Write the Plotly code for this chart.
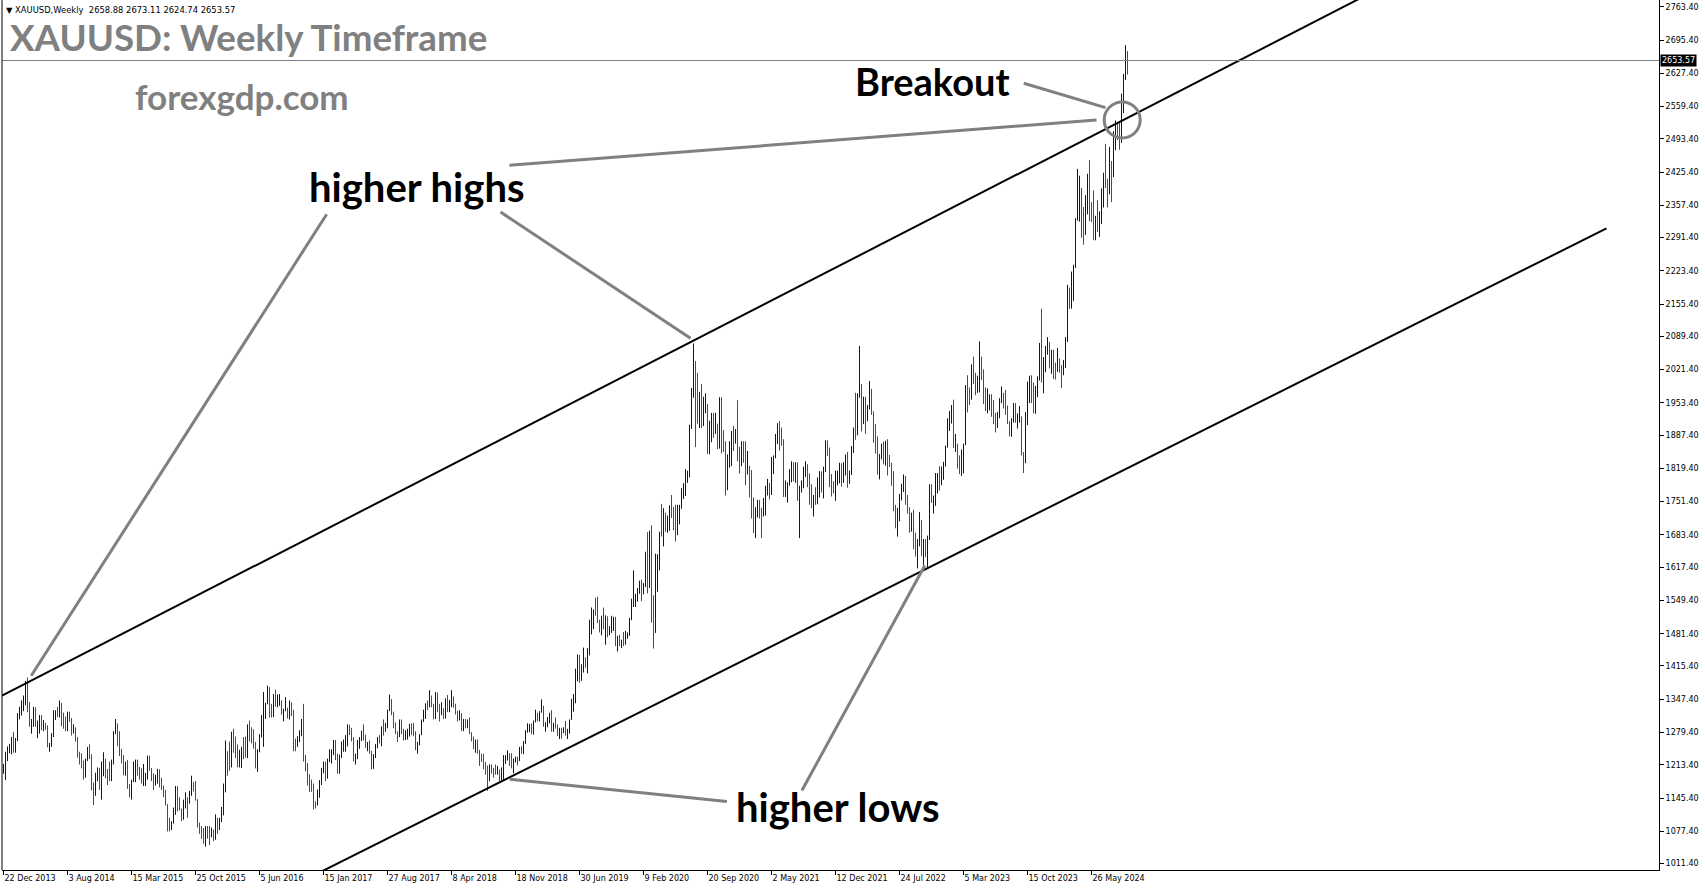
import pandas as pd
import plotly.graph_objects as go

# ---------------- data (weekly XAUUSD bars) ----------------
START = pd.Timestamp("2013-12-22")   # first weekly bar on the chart

opens = [
    1203, 1213,
    1237, 1248, 1254, 1264, 1240, 1262, 1318, 1324, 1326, 1339, 1379, 1336, 1294, 1303, 1318, 1294, 1301, 1302, 1291, 1293,
    1292, 1250, 1252, 1274, 1316, 1320, 1317, 1338, 1310, 1307, 1294, 1310, 1305, 1280, 1287, 1267, 1229, 1215, 1213, 1192,
    1222, 1238, 1232, 1171, 1169, 1190, 1197, 1167, 1191, 1222, 1195, 1194,
    1186, 1216, 1277, 1293, 1279, 1234, 1228, 1206, 1213, 1166, 1152, 1182, 1199, 1219, 1207, 1203, 1178, 1179, 1189, 1225,
    1205, 1189, 1172, 1181, 1201, 1173, 1168, 1157, 1131, 1098, 1094, 1095, 1113, 1160, 1134, 1121, 1104, 1137, 1146, 1137,
    1156, 1176, 1162, 1142, 1088, 1081, 1076, 1057, 1085, 1074, 1066, 1076,
    1061, 1098, 1090, 1097, 1118, 1173, 1239, 1230, 1221, 1271, 1259, 1254, 1217, 1222, 1243, 1234, 1231, 1291, 1289, 1273,
    1253, 1213, 1243, 1275, 1298, 1315, 1339, 1366, 1327, 1322, 1351, 1335, 1336, 1341, 1321, 1326, 1328, 1310, 1338, 1316,
    1257, 1251, 1266, 1276, 1304, 1225, 1207, 1178, 1177, 1160, 1134, 1133,
    1151, 1173, 1197, 1205, 1190, 1220, 1234, 1238, 1257, 1234, 1201, 1229, 1243, 1249, 1254, 1288, 1284, 1268, 1228, 1229,
    1254, 1269, 1280, 1266, 1254, 1256, 1241, 1212, 1228, 1255, 1269, 1258, 1289, 1285, 1292, 1325, 1346, 1320, 1297, 1280,
    1274, 1303, 1280, 1266, 1269, 1275, 1293, 1288, 1280, 1248, 1256, 1275, 1303,
    1322, 1338, 1332, 1350, 1333, 1316, 1347, 1330, 1323, 1324, 1313, 1347, 1323, 1332, 1345, 1336, 1323, 1315, 1318, 1292,
    1301, 1294, 1298, 1279, 1269, 1252, 1255, 1241, 1231, 1223, 1214, 1211, 1184, 1205, 1199, 1196, 1194, 1201, 1191, 1203,
    1219, 1227, 1233, 1232, 1209, 1222, 1223, 1222, 1248, 1238, 1256, 1280,
    1287, 1289, 1282, 1303, 1317, 1314, 1322, 1328, 1294, 1299, 1302, 1313, 1292, 1293, 1290, 1275, 1286, 1280, 1286, 1277,
    1283, 1305, 1341, 1342, 1400, 1409, 1400, 1415, 1426, 1419, 1441, 1497, 1513, 1527, 1520, 1507, 1488, 1517, 1497, 1505,
    1489, 1490, 1505, 1514, 1459, 1468, 1462, 1464, 1460, 1476, 1479, 1511,
    1552, 1557, 1558, 1571, 1589, 1570, 1584, 1643, 1585, 1674, 1529, 1498, 1617, 1620, 1684, 1683, 1728, 1700, 1702, 1743,
    1735, 1730, 1685, 1730, 1743, 1771, 1775, 1799, 1807, 1902, 1975, 2035, 1944, 1940, 1964, 1934, 1941, 1950, 1862, 1900,
    1930, 1899, 1902, 1878, 1951, 1889, 1871, 1788, 1839, 1840, 1881, 1877,
    1895, 1849, 1828, 1856, 1847, 1813, 1824, 1784, 1734, 1700, 1727, 1745, 1732, 1728, 1744, 1777, 1778, 1769, 1831, 1843,
    1881, 1903, 1891, 1877, 1764, 1781, 1787, 1808, 1812, 1802, 1814, 1763, 1780, 1781, 1818, 1827, 1787, 1754, 1750, 1761,
    1757, 1768, 1792, 1783, 1818, 1865, 1846, 1788, 1783, 1782, 1805, 1811,
    1829, 1797, 1818, 1836, 1791, 1807, 1859, 1897, 1889, 1966, 1988, 1921, 1958, 1925, 1945, 1974, 1934, 1896, 1883, 1811,
    1846, 1853, 1851, 1871, 1840, 1827, 1811, 1742, 1708, 1727, 1766, 1775, 1802, 1747, 1737, 1712, 1717, 1675, 1644, 1661,
    1695, 1644, 1657, 1644, 1681, 1771, 1751, 1755, 1797, 1798, 1793, 1798,
    1824, 1865, 1920, 1926, 1928, 1865, 1866, 1842, 1811, 1856, 1868, 1989, 1978, 1969, 2007, 2004, 1983, 1990, 2016, 2011,
    1977, 1946, 1948, 1961, 1958, 1921, 1919, 1925, 1955, 1962, 1959, 1943, 1914, 1889, 1915, 1940, 1919, 1924, 1925, 1849,
    1833, 1933, 1981, 2006, 1993, 1940, 1981, 2002, 2072, 2005, 2019, 2053, 2063,
    2045, 2049, 2029, 2018, 2040, 2024, 2013, 2035, 2083, 2179, 2155, 2166, 2233, 2330, 2344, 2392, 2337, 2302, 2360, 2415,
    2334, 2327, 2293, 2333, 2321, 2326, 2391, 2411, 2400, 2387, 2443, 2431, 2507, 2512, 2503, 2497, 2578, 2622, 2658.88,
]

highs = [
    1215, 1240,
    1251, 1256, 1270, 1280, 1268, 1319, 1332, 1345, 1355, 1385, 1392, 1342, 1307, 1332, 1331, 1304, 1315, 1315, 1305, 1299,
    1294, 1258, 1278, 1325, 1325, 1332, 1345, 1340, 1320, 1312, 1322, 1322, 1309, 1296, 1290, 1270, 1240, 1237, 1222, 1226,
    1250, 1255, 1235, 1177, 1197, 1208, 1207, 1220, 1239, 1226, 1205, 1220,
    1224, 1282, 1307, 1298, 1282, 1246, 1233, 1220, 1223, 1174, 1183, 1220, 1224, 1224, 1209, 1206, 1215, 1197, 1232, 1232,
    1207, 1196, 1193, 1205, 1204, 1187, 1171, 1162, 1133, 1105, 1098, 1126, 1170, 1170, 1147, 1124, 1142, 1157, 1147, 1160,
    1191, 1178, 1180, 1143, 1095, 1088, 1084, 1088, 1088, 1088, 1085, 1081,
    1112, 1105, 1105, 1127, 1175, 1263, 1241, 1261, 1281, 1287, 1271, 1255, 1244, 1250, 1270, 1271, 1296, 1304, 1290, 1286,
    1260, 1245, 1276, 1315, 1362, 1340, 1375, 1372, 1338, 1358, 1367, 1357, 1358, 1345, 1328, 1352, 1330, 1345, 1341, 1326,
    1267, 1272, 1284, 1307, 1338, 1234, 1217, 1194, 1183, 1175, 1139, 1163,
    1182, 1207, 1220, 1220, 1226, 1245, 1245, 1264, 1264, 1236, 1234, 1261, 1265, 1274, 1296, 1295, 1289, 1270, 1236, 1264,
    1270, 1283, 1296, 1275, 1260, 1263, 1242, 1235, 1256, 1270, 1274, 1292, 1306, 1299, 1326, 1357, 1348, 1322, 1300, 1282,
    1306, 1306, 1287, 1284, 1287, 1297, 1298, 1299, 1282, 1260, 1276, 1306, 1326,
    1339, 1345, 1366, 1355, 1338, 1362, 1361, 1338, 1341, 1329, 1349, 1356, 1346, 1366, 1353, 1338, 1324, 1325, 1319, 1307,
    1307, 1306, 1310, 1280, 1271, 1265, 1265, 1244, 1236, 1236, 1219, 1212, 1214, 1214, 1207, 1214, 1211, 1204, 1208, 1233,
    1233, 1243, 1237, 1237, 1226, 1230, 1230, 1250, 1251, 1262, 1284, 1298,
    1297, 1298, 1304, 1326, 1320, 1323, 1347, 1334, 1300, 1311, 1320, 1325, 1299, 1310, 1296, 1289, 1289, 1290, 1303, 1287,
    1306, 1348, 1358, 1410, 1439, 1438, 1419, 1453, 1433, 1452, 1510, 1535, 1531, 1555, 1557, 1510, 1518, 1535, 1519, 1517,
    1497, 1518, 1516, 1516, 1477, 1479, 1469, 1485, 1487, 1484, 1514, 1553,
    1611, 1563, 1575, 1590, 1592, 1585, 1649, 1689, 1692, 1703, 1560, 1645, 1644, 1690, 1747, 1738, 1729, 1723, 1744, 1765,
    1741, 1745, 1745, 1745, 1779, 1789, 1818, 1815, 1909, 1984, 2075, 2039, 2015, 1976, 1992, 1966, 1973, 1951, 1917, 1933,
    1933, 1933, 1911, 1965, 1965, 1898, 1875, 1848, 1875, 1896, 1906, 1900,
    1959, 1864, 1875, 1875, 1875, 1855, 1825, 1816, 1760, 1740, 1755, 1755, 1739, 1759, 1784, 1798, 1790, 1843, 1846, 1890,
    1912, 1916, 1903, 1879, 1795, 1791, 1818, 1834, 1832, 1832, 1832, 1784, 1795, 1823, 1834, 1828, 1809, 1787, 1765, 1781,
    1801, 1814, 1813, 1823, 1877, 1877, 1862, 1808, 1793, 1815, 1815, 1831,
    1830, 1832, 1848, 1853, 1815, 1865, 1903, 1974, 1973, 2070, 1992, 1966, 1966, 1949, 1998, 1982, 1936, 1910, 1885, 1849,
    1870, 1874, 1876, 1879, 1847, 1831, 1814, 1745, 1739, 1767, 1788, 1807, 1804, 1765, 1740, 1729, 1735, 1688, 1675, 1730,
    1714, 1675, 1675, 1682, 1787, 1787, 1764, 1810, 1810, 1824, 1823, 1833,
    1866, 1922, 1937, 1949, 1960, 1890, 1870, 1846, 1858, 1870, 1990, 2010, 1985, 2032, 2048, 2015, 2009, 2079, 2048, 2022,
    1985, 1983, 1971, 1971, 1959, 1933, 1935, 1963, 1987, 1974, 1980, 1948, 1916, 1922, 1953, 1953, 1932, 1947, 1926, 1853,
    1935, 1997, 2009, 2010, 1995, 1988, 2008, 2076, 2146, 2047, 2070, 2088, 2078,
    2062, 2062, 2036, 2066, 2044, 2031, 2041, 2088, 2195, 2189, 2222, 2236, 2331, 2432, 2418, 2393, 2354, 2378, 2422, 2450,
    2364, 2388, 2336, 2368, 2345, 2392, 2424, 2483, 2412, 2477, 2448, 2509, 2531, 2528, 2529, 2586, 2626, 2685, 2673.11,
]

lows = [
    1195, 1182,
    1221, 1237, 1235, 1238, 1238, 1262, 1306, 1314, 1323, 1335, 1321, 1291, 1277, 1291, 1291, 1268, 1277, 1284, 1282, 1285,
    1249, 1240, 1250, 1270, 1305, 1311, 1310, 1292, 1287, 1282, 1282, 1301, 1273, 1277, 1261, 1228, 1214, 1206, 1183, 1187,
    1221, 1225, 1161, 1131, 1150, 1180, 1162, 1142, 1190, 1186, 1172, 1180,
    1180, 1214, 1276, 1251, 1231, 1216, 1192, 1191, 1164, 1147, 1142, 1178, 1178, 1191, 1183, 1175, 1170, 1170, 1183, 1201,
    1180, 1162, 1171, 1175, 1167, 1162, 1147, 1130, 1077, 1077, 1080, 1093, 1111, 1118, 1120, 1098, 1101, 1124, 1105, 1134,
    1150, 1159, 1140, 1085, 1072, 1062, 1052, 1046, 1062, 1049, 1065, 1057,
    1060, 1072, 1080, 1096, 1110, 1157, 1191, 1201, 1208, 1238, 1227, 1208, 1208, 1207, 1225, 1228, 1227, 1261, 1257, 1246,
    1206, 1199, 1239, 1269, 1250, 1307, 1337, 1310, 1310, 1311, 1332, 1331, 1334, 1316, 1302, 1323, 1308, 1306, 1313, 1241,
    1241, 1250, 1260, 1272, 1220, 1200, 1171, 1158, 1158, 1122, 1124, 1130,
    1146, 1172, 1196, 1180, 1185, 1219, 1216, 1233, 1223, 1195, 1195, 1227, 1240, 1240, 1251, 1274, 1261, 1220, 1214, 1225,
    1246, 1262, 1263, 1248, 1241, 1236, 1204, 1205, 1227, 1247, 1257, 1251, 1273, 1281, 1288, 1323, 1315, 1288, 1276, 1260,
    1270, 1276, 1263, 1264, 1265, 1271, 1274, 1272, 1243, 1236, 1253, 1274, 1301,
    1307, 1325, 1331, 1331, 1306, 1307, 1321, 1302, 1315, 1307, 1308, 1321, 1321, 1331, 1330, 1316, 1302, 1304, 1282, 1282,
    1288, 1288, 1276, 1261, 1245, 1238, 1236, 1211, 1219, 1204, 1193, 1160, 1180, 1195, 1187, 1193, 1193, 1180, 1182, 1182,
    1215, 1222, 1211, 1206, 1196, 1218, 1212, 1221, 1236, 1235, 1256, 1279,
    1280, 1276, 1275, 1300, 1302, 1302, 1320, 1291, 1281, 1290, 1298, 1281, 1281, 1287, 1272, 1266, 1267, 1278, 1273, 1266,
    1277, 1305, 1322, 1339, 1384, 1381, 1385, 1402, 1412, 1400, 1437, 1480, 1491, 1518, 1503, 1484, 1478, 1490, 1459, 1474,
    1478, 1483, 1487, 1456, 1445, 1456, 1452, 1456, 1459, 1471, 1477, 1509,
    1536, 1536, 1547, 1563, 1548, 1562, 1577, 1564, 1575, 1504, 1451, 1483, 1567, 1611, 1680, 1660, 1690, 1688, 1692, 1718,
    1693, 1670, 1683, 1705, 1737, 1757, 1763, 1790, 1801, 1900, 1964, 1863, 1911, 1902, 1902, 1906, 1932, 1849, 1848, 1873,
    1882, 1890, 1859, 1860, 1850, 1853, 1764, 1775, 1821, 1824, 1855, 1870,
    1834, 1809, 1824, 1831, 1785, 1807, 1760, 1717, 1687, 1677, 1719, 1717, 1677, 1721, 1723, 1764, 1756, 1765, 1808, 1840,
    1869, 1856, 1866, 1761, 1761, 1750, 1784, 1791, 1793, 1790, 1753, 1677, 1770, 1779, 1802, 1781, 1745, 1738, 1721, 1745,
    1746, 1760, 1770, 1758, 1812, 1845, 1781, 1762, 1768, 1753, 1785, 1789,
    1782, 1790, 1805, 1780, 1788, 1806, 1851, 1878, 1887, 1964, 1895, 1910, 1890, 1916, 1940, 1929, 1872, 1850, 1807, 1797,
    1838, 1828, 1825, 1805, 1822, 1784, 1732, 1697, 1680, 1711, 1754, 1771, 1745, 1727, 1688, 1690, 1654, 1639, 1615, 1660,
    1640, 1617, 1638, 1617, 1673, 1749, 1727, 1743, 1768, 1774, 1785, 1796,
    1823, 1862, 1896, 1911, 1861, 1853, 1819, 1808, 1804, 1809, 1867, 1934, 1949, 1960, 1992, 1969, 1974, 1975, 2000, 1951,
    1937, 1932, 1938, 1925, 1910, 1893, 1902, 1922, 1953, 1942, 1929, 1910, 1885, 1884, 1913, 1913, 1901, 1913, 1846, 1810,
    1830, 1908, 1953, 1953, 1932, 1931, 1965, 1999, 1995, 1973, 2016, 2052, 2024,
    2013, 2002, 2001, 2017, 2015, 1984, 2010, 2025, 2078, 2146, 2146, 2162, 2229, 2326, 2324, 2291, 2277, 2297, 2339, 2325,
    2323, 2286, 2286, 2303, 2293, 2319, 2353, 2393, 2353, 2380, 2364, 2415, 2470, 2491, 2471, 2485, 2546, 2614, 2624.74,
]

closes = [
    1213, 1237,
    1248, 1254, 1264, 1240, 1262, 1318, 1324, 1326, 1339, 1379, 1336, 1294, 1303, 1318, 1294, 1301, 1302, 1291, 1293, 1292,
    1250, 1252, 1274, 1316, 1320, 1317, 1338, 1310, 1307, 1294, 1310, 1305, 1280, 1287, 1267, 1229, 1215, 1213, 1192, 1222,
    1238, 1232, 1171, 1169, 1190, 1197, 1167, 1191, 1222, 1195, 1194, 1186,
    1216, 1277, 1293, 1279, 1234, 1228, 1206, 1213, 1166, 1152, 1182, 1199, 1219, 1207, 1203, 1178, 1179, 1189, 1225, 1205,
    1189, 1172, 1181, 1201, 1173, 1168, 1157, 1131, 1098, 1094, 1095, 1113, 1160, 1134, 1121, 1104, 1137, 1146, 1137, 1156,
    1176, 1162, 1142, 1088, 1081, 1076, 1057, 1085, 1074, 1066, 1076, 1061,
    1098, 1090, 1097, 1118, 1173, 1239, 1230, 1221, 1271, 1259, 1254, 1217, 1222, 1243, 1234, 1231, 1291, 1289, 1273, 1253,
    1213, 1243, 1275, 1298, 1315, 1339, 1366, 1327, 1322, 1351, 1335, 1336, 1341, 1321, 1326, 1328, 1310, 1338, 1316, 1257,
    1251, 1266, 1276, 1304, 1225, 1207, 1178, 1177, 1160, 1134, 1133, 1151,
    1173, 1197, 1205, 1190, 1220, 1234, 1238, 1257, 1234, 1201, 1229, 1243, 1249, 1254, 1288, 1284, 1268, 1228, 1229, 1254,
    1269, 1280, 1266, 1254, 1256, 1241, 1212, 1228, 1255, 1269, 1258, 1289, 1285, 1292, 1325, 1346, 1320, 1297, 1280, 1274,
    1303, 1280, 1266, 1269, 1275, 1293, 1288, 1280, 1248, 1256, 1275, 1303, 1322,
    1338, 1332, 1350, 1333, 1316, 1347, 1330, 1323, 1324, 1313, 1347, 1323, 1332, 1345, 1336, 1323, 1315, 1318, 1292, 1301,
    1294, 1298, 1279, 1269, 1252, 1255, 1241, 1231, 1223, 1214, 1211, 1184, 1205, 1199, 1196, 1194, 1201, 1191, 1203, 1219,
    1227, 1233, 1232, 1209, 1222, 1223, 1222, 1248, 1238, 1256, 1280, 1287,
    1289, 1282, 1303, 1317, 1314, 1322, 1328, 1294, 1299, 1302, 1313, 1292, 1293, 1290, 1275, 1286, 1280, 1286, 1277, 1283,
    1305, 1341, 1342, 1400, 1409, 1400, 1415, 1426, 1419, 1441, 1497, 1513, 1527, 1520, 1507, 1488, 1517, 1497, 1505, 1489,
    1490, 1505, 1514, 1459, 1468, 1462, 1464, 1460, 1476, 1479, 1511, 1552,
    1557, 1558, 1571, 1589, 1570, 1584, 1643, 1585, 1674, 1529, 1498, 1617, 1620, 1684, 1683, 1728, 1700, 1702, 1743, 1735,
    1730, 1685, 1730, 1743, 1771, 1775, 1799, 1807, 1902, 1975, 2035, 1944, 1940, 1964, 1934, 1941, 1950, 1862, 1900, 1930,
    1899, 1902, 1878, 1951, 1889, 1871, 1788, 1839, 1840, 1881, 1877, 1895,
    1849, 1828, 1856, 1847, 1813, 1824, 1784, 1734, 1700, 1727, 1745, 1732, 1728, 1744, 1777, 1778, 1769, 1831, 1843, 1881,
    1903, 1891, 1877, 1764, 1781, 1787, 1808, 1812, 1802, 1814, 1763, 1780, 1781, 1818, 1827, 1787, 1754, 1750, 1761, 1757,
    1768, 1792, 1783, 1818, 1865, 1846, 1788, 1783, 1782, 1805, 1811, 1829,
    1797, 1818, 1836, 1791, 1807, 1859, 1897, 1889, 1966, 1988, 1921, 1958, 1925, 1945, 1974, 1934, 1896, 1883, 1811, 1846,
    1853, 1851, 1871, 1840, 1827, 1811, 1742, 1708, 1727, 1766, 1775, 1802, 1747, 1737, 1712, 1717, 1675, 1644, 1661, 1695,
    1644, 1657, 1644, 1681, 1771, 1751, 1755, 1797, 1798, 1793, 1798, 1824,
    1865, 1920, 1926, 1928, 1865, 1866, 1842, 1811, 1856, 1868, 1989, 1978, 1969, 2007, 2004, 1983, 1990, 2016, 2011, 1977,
    1946, 1948, 1961, 1958, 1921, 1919, 1925, 1955, 1962, 1959, 1943, 1914, 1889, 1915, 1940, 1919, 1924, 1925, 1849, 1833,
    1933, 1981, 2006, 1993, 1940, 1981, 2002, 2072, 2005, 2019, 2053, 2063, 2045,
    2049, 2029, 2018, 2040, 2024, 2013, 2035, 2083, 2179, 2155, 2166, 2233, 2330, 2344, 2392, 2337, 2302, 2360, 2415, 2334,
    2327, 2293, 2333, 2321, 2326, 2391, 2411, 2400, 2387, 2443, 2431, 2507, 2512, 2503, 2497, 2578, 2622, 2658, 2653.57,
]

# time-axis labels (every 32 weekly bars, as on the chart)
x_tick_text = ["22 Dec 2013", "3 Aug 2014", "15 Mar 2015", "25 Oct 2015", "5 Jun 2016", "15 Jan 2017",
               "27 Aug 2017", "8 Apr 2018", "18 Nov 2018", "30 Jun 2019", "9 Feb 2020", "20 Sep 2020",
               "2 May 2021", "12 Dec 2021", "24 Jul 2022", "5 Mar 2023", "15 Oct 2023", "26 May 2024"]
x_tick_step = 32

# price-axis labels
y_tick_vals = [2763.40, 2695.40, 2627.40, 2559.40, 2493.40, 2425.40, 2357.40, 2291.40, 2223.40, 2155.40,
               2089.40, 2021.40, 1953.40, 1887.40, 1819.40, 1751.40, 1683.40, 1617.40, 1549.40, 1481.40,
               1415.40, 1347.40, 1279.40, 1213.40, 1145.40, 1077.40, 1011.40]

# trend lines: (bar index, price) anchors; the upper one is a ray, the lower one ends at a bar
upper_channel = [(12, 1381.5), (345, 2080.8)]
lower_channel = [(160.5, 998.2), (801.5, 2310.2)]
lower_channel_end = 801.5

# annotation pointer lines: (bar index, price) -> (bar index, price)
pointer_lines = [
    ((161.6, 2339.3), (13.85, 1395.5)),
    ((248.5, 2343.7), (343.5, 2085.5)),
    ((252.95, 2439.3), (546.5, 2531.9)),
    ((510.15, 2607.0), (551.0, 2557.1)),
    ((361.7, 1138.4), (253.15, 1183.6)),
    ((399.2, 1160.7), (460.65, 1620.8)),
]
breakout_circle = (559.35, 2531.9, 9.0, 36.8)   # centre bar, centre price, half-width (bars), half-height (price)

# ---------------- figure ----------------
n = len(closes)
assert len(opens) == len(highs) == len(lows) == n == 563, (len(opens), len(highs), len(lows), n)


def wk(i):
    return START + pd.Timedelta(days=7 * i)


dates = [wk(i) for i in range(n)]
last_o, last_h, last_l, last_c = opens[-1], highs[-1], lows[-1], closes[-1]

W, H = 1705, 888
ML, MR, MT, MB = 2, 46, 0, 18
XI0 = -0.75
XI1 = XI0 + (W - ML - MR) / 2.0        # two pixels per weekly bar
Y0, Y1 = 998.2, 2777.3

BLUE = "#0000CC"
RED = "#FF0000"
GRAY = "#808080"

fig = go.Figure()

fig.add_trace(go.Ohlc(
    x=dates, open=opens, high=highs, low=lows, close=closes,
    increasing=dict(line=dict(color=BLUE, width=1)),
    decreasing=dict(line=dict(color=RED, width=1)),
    tickwidth=0, hoverinfo="skip", showlegend=False,
))


def line_points(anchors, i_start, i_end):
    (ai, ap), (bi, bp) = anchors
    s = (bp - ap) / (bi - ai)
    return [wk(i_start), wk(i_end)], [ap + s * (i_start - ai), ap + s * (i_end - ai)]


for anc, i_end in ((upper_channel, XI1), (lower_channel, lower_channel_end)):
    xs, ys = line_points(anc, XI0, i_end)
    fig.add_trace(go.Scatter(x=xs, y=ys, mode="lines", line=dict(color="black", width=2),
                             hoverinfo="skip", showlegend=False, cliponaxis=True))

for (a, b) in pointer_lines:
    fig.add_shape(type="line", xref="x", yref="y", x0=wk(a[0]), y0=a[1], x1=wk(b[0]), y1=b[1],
                  line=dict(color=GRAY, width=3))

ci, cp, ri, rp = breakout_circle
fig.add_shape(type="circle", xref="x", yref="y", x0=wk(ci - ri), x1=wk(ci + ri), y0=cp - rp, y1=cp + rp,
              line=dict(color=GRAY, width=3))

# current price line + label
fig.add_shape(type="line", xref="paper", yref="y", x0=0, x1=1, y0=last_c, y1=last_c,
              line=dict(color="#7A8591", width=1))
fig.add_shape(type="line", xref="paper", yref="paper", x0=0, x1=0, y0=0, y1=1,
              line=dict(color="black", width=1))
fig.add_annotation(xref="paper", yref="y", x=1, y=last_c, xanchor="left", yanchor="middle", xshift=1,
                   text=f"{last_c:.2f}", showarrow=False, bgcolor="black", borderpad=1,
                   font=dict(family="DejaVu Sans", size=8, color="white"))


def px_x(px):
    return (px - ML) / (W - ML - MR)


def px_y(py):
    return (H - MB - py) / (H - MT - MB)


header = f"▼\u00a0XAUUSD,Weekly\u00a0\u00a0{last_o:.2f} {last_h:.2f} {last_l:.2f} {last_c:.2f}"
fig.add_annotation(xref="paper", yref="paper", x=px_x(4), y=px_y(10.5), xanchor="left", yanchor="middle",
                   text=header, showarrow=False, font=dict(family="DejaVu Sans", size=8.4, color="black"))
fig.add_annotation(xref="paper", yref="paper", x=px_x(8), y=px_y(37), xanchor="left", yanchor="middle",
                   text="<b>XAUUSD: Weekly Timeframe</b>", showarrow=False,
                   font=dict(family="Lato", size=36.7, color=GRAY))
fig.add_annotation(xref="paper", yref="paper", x=px_x(133), y=px_y(96), xanchor="left", yanchor="middle",
                   text="<b>forexgdp.com</b>", showarrow=False,
                   font=dict(family="Lato", size=35, color=GRAY))

fig.add_annotation(x=wk(424.8), y=2612, xanchor="left", yanchor="middle", text="<b>Breakout</b>",
                   showarrow=False, font=dict(family="Lato", size=38, color="black"))
fig.add_annotation(x=wk(151.9), y=2395, xanchor="left", yanchor="middle", text="<b>higher highs</b>",
                   showarrow=False, font=dict(family="Lato", size=40, color="black"))
fig.add_annotation(x=wk(365), y=1127, xanchor="left", yanchor="middle", text="<b>higher lows</b>",
                   showarrow=False, font=dict(family="Lato", size=40, color="black"))

fig.update_layout(
    width=W, height=H, margin=dict(l=ML, r=MR, t=MT, b=MB),
    paper_bgcolor="white", plot_bgcolor="white", showlegend=False,
    xaxis=dict(
        type="date", range=[wk(XI0), wk(XI1)], rangeslider=dict(visible=False),
        showgrid=False, zeroline=False, showline=True, linecolor="black", linewidth=1,
        ticks="outside", ticklen=4, tickcolor="black", tickwidth=1,
        tickmode="array", tickvals=[wk(i) for i in range(0, x_tick_step * len(x_tick_text), x_tick_step)],
        ticktext=x_tick_text, ticklabelposition="outside right",
        tickfont=dict(family="DejaVu Sans", size=8, color="black"), automargin=False, fixedrange=True,
    ),
    yaxis=dict(
        side="right", range=[Y0, Y1], showgrid=False, zeroline=False, showline=True,
        linecolor="black", linewidth=1, ticks="outside", ticklen=4, tickcolor="black", tickwidth=1,
        tickmode="array", tickvals=y_tick_vals, ticktext=[f"{v:.2f}" for v in y_tick_vals],
        tickfont=dict(family="DejaVu Sans", size=8, color="black"), automargin=False, fixedrange=True,
    ),
)

fig.write_html("out.html", config={"displayModeBar": False},
               post_script="document.body.style.margin='0';")
